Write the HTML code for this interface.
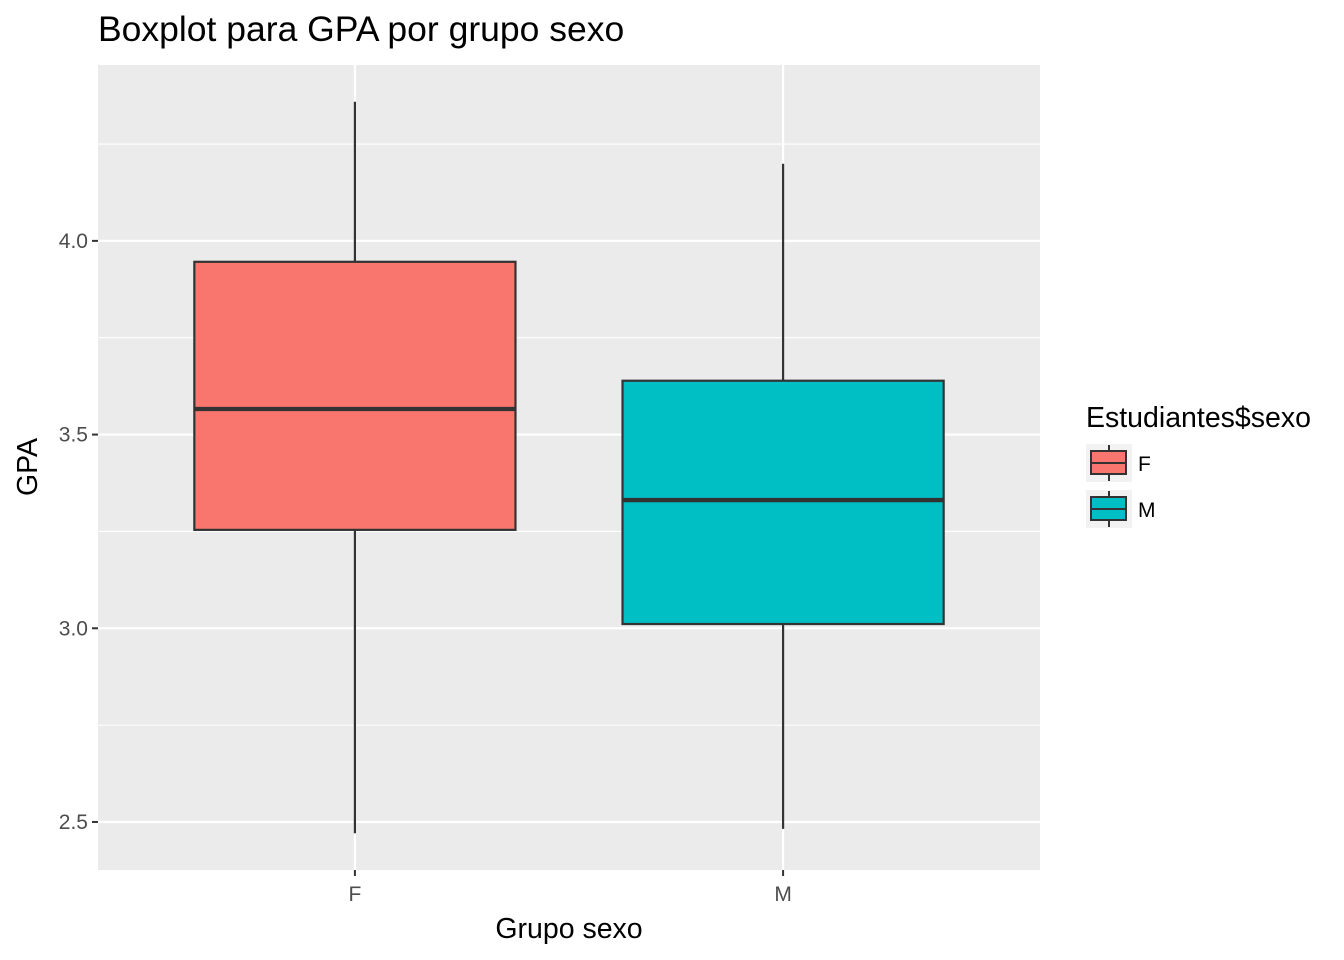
<!DOCTYPE html>
<html><head><meta charset="utf-8"><style>
body{margin:0;background:#fff;}
svg{display:block;font-family:"Liberation Sans",sans-serif;}
</style></head><body>
<svg id="chart" width="1344" height="960">
<text x="98" y="41" font-size="35.5" fill="#000">Boxplot para GPA por grupo sexo</text>
<rect x="98" y="65" width="942" height="805" fill="#ebebeb"/>
<g id="grid"></g>
<g id="marks"></g>
<g id="axes"></g>
<text x="569" y="938" font-size="28.5" text-anchor="middle">Grupo sexo</text>
<text transform="translate(37,467) rotate(-90)" font-size="28.5" text-anchor="middle">GPA</text>
<g id="legend">
<text x="1086" y="427" font-size="28.5">Estudiantes$sexo</text>
</g>
</svg>
<script>
const categories=["F","M"];
const q1=[3.254,3.011];
const medians=[3.566,3.331];
const q3=[3.946,3.639];
const mins=[2.471,2.482];
const maxs=[4.359,4.199];
const colors=["#F8766D","#00BFC4"];
const yTicks=[2.5,3.0,3.5,4.0];
const yTickLabels=["2.5","3.0","3.5","4.0"];
const NS="http://www.w3.org/2000/svg";
const px0=98,px1=1040,py0=65,py1=870;
const yMin=2.376,yMax=4.454;
const y=v=>py1-(v-yMin)/(yMax-yMin)*(py1-py0);
const band=(px1-px0)/(categories.length-1+1.2);
const x=i=>px0+band*(i+0.6);
function mk(tag,attrs,parent){const e=document.createElementNS(NS,tag);for(const k in attrs)e.setAttribute(k,attrs[k]);parent.appendChild(e);return e;}
const grid=document.getElementById('grid'),marks=document.getElementById('marks'),axes=document.getElementById('axes'),legend=document.getElementById('legend');
for(let i=0;i<yTicks.length-1;i++){const v=(yTicks[i]+yTicks[i+1])/2;const l=mk('line',{x1:px0,x2:px1,y1:y(v),y2:y(v),stroke:'#fff','stroke-width':1.1},grid);

}
{const v=yTicks[yTicks.length-1]+0.25;const l=mk('line',{x1:px0,x2:px1,y1:y(v),y2:y(v),stroke:'#fff','stroke-width':1.1},grid);

}
yTicks.forEach((v,i)=>{
const l=mk('line',{x1:px0,x2:px1,y1:y(v),y2:y(v),stroke:'#fff','stroke-width':2.2},grid);


const t=mk('line',{x1:px0-6,x2:px0,y1:y(v),y2:y(v),stroke:'#333','stroke-width':2},axes);


const tx=mk('text',{x:px0-10,y:y(v)+7,'font-size':21,fill:'#4d4d4d','text-anchor':'end'},axes);
tx.textContent=yTickLabels[i];


});
categories.forEach((c,i)=>{
const cx=x(i);
const g=mk('line',{x1:cx,x2:cx,y1:py0,y2:py1,stroke:'#fff','stroke-width':2.2},grid);


const t=mk('line',{x1:cx,x2:cx,y1:py1,y2:py1+6,stroke:'#333','stroke-width':2},axes);


const tx=mk('text',{x:cx,y:py1+31,'font-size':21,fill:'#4d4d4d','text-anchor':'middle'},axes);
tx.textContent=c;


const w=band*0.75;
const wh=mk('line',{x1:cx,x2:cx,y1:y(maxs[i]),y2:y(mins[i]),stroke:'#333','stroke-width':2.2},marks);


const b=mk('rect',{x:cx-w/2,y:y(q3[i]),width:w,height:y(q1[i])-y(q3[i]),fill:colors[i],stroke:'#333','stroke-width':2.2},marks);


const m=mk('line',{x1:cx-w/2,x2:cx+w/2,y1:y(medians[i]),y2:y(medians[i]),stroke:'#333','stroke-width':4.3},marks);


const ky=444+i*46;
const kb=mk('rect',{x:1086,y:ky,width:46,height:38,fill:'#f2f2f2'},legend);


const kl=mk('line',{x1:1109,x2:1109,y1:ky+1,y2:ky+37,stroke:'#333','stroke-width':2},legend);


const kr=mk('rect',{x:1091,y:ky+7,width:35,height:23,fill:colors[i],stroke:'#333','stroke-width':2},legend);


const km=mk('line',{x1:1091,x2:1126,y1:ky+19,y2:ky+19,stroke:'#333','stroke-width':2},legend);


const lt=mk('text',{x:1138,y:ky+27,'font-size':21,fill:'#000'},legend);
lt.textContent=c;


});
</script>
</body></html>
